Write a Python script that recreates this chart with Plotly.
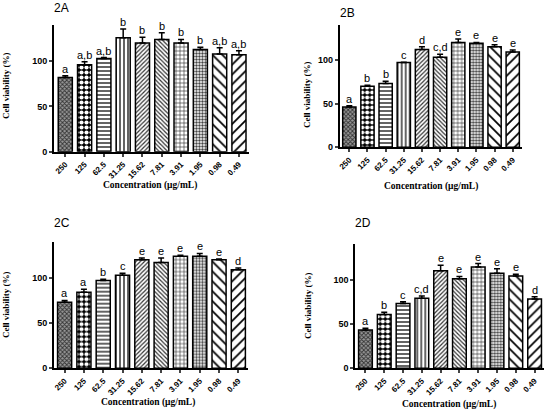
import plotly.graph_objects as go

# Concentrations (ug/mL) on the x axis
conc = ["250", "125", "62.5", "31.25", "15.62", "7.81", "3.91", "1.95", "0.98", "0.49"]

# Cell viability (%), with upper error bar sizes and letters
via_a = [82, 96, 103, 126, 120, 124, 120, 113, 108, 107]
err_a = [2, 3.5, 1, 9.5, 6.5, 7.5, 4, 2.5, 7, 4.5]
let_a = ["a", "a,b", "a,b", "b", "b", "b", "b", "b", "a,b", "a,b"]

via_b = [46, 70, 73, 97, 112, 103, 120, 119, 115, 109]
err_b = [1.5, 1, 2.5, 0.5, 3, 3.5, 4, 1, 2.5, 2.5]
let_b = ["a", "b", "b", "c", "d", "c,d", "e", "e", "e", "e"]

via_c = [73, 84, 97, 103, 120, 117, 124, 124, 120, 109]
err_c = [2, 3.5, 1.5, 2, 2, 5, 1, 3, 1, 2]
let_c = ["a", "a", "b", "c", "e", "e", "e", "e", "e", "d"]

via_d = [43, 60.5, 73, 79, 110, 101, 114, 107, 104, 78]
err_d = [2, 2.5, 2, 2.5, 6, 2.5, 4, 5, 2, 2.5]
let_d = ["a", "b", "c", "c,d", "e", "e", "e", "e", "e", "d"]

panels = [
    ("2A", via_a, err_a, let_a),
    ("2B", via_b, err_b, let_b),
    ("2C", via_c, err_c, let_c),
    ("2D", via_d, err_d, let_d),
]

W, H = 546, 410

# pixel geometry of each panel: axis line x, right end x, bottom y, top y, left pad in categories
geom = [
    (54, 248.6, 151.7, 25, 0.585),
    (339.7, 521.8, 147.3, 25, 0.53),
    (54, 248, 368.3, 241.7, 0.55),
    (355.3, 544, 368.3, 244, 0.54),
]
title_pos = [(61, 8), (347, 13), (62, 223), (363, 223)]
ylab_pos = [(6, 86), (307, 95), (6, 305), (308, 306)]
xlab_pos = [(150, 186), (431, 187), (148, 402), (449, 404)]

# fill patterns per bar
shapes = ["x", ".", "-", "|", "/", "\\", "+", ".", "\\", "/"]
sizes = [3, 5, 4, 4, 3, 3, 4, 3, 7, 7]
solid = [0.5, 0.55, 0.35, 0.35, 0.4, 0.4, 0.3, 0.5, 0.25, 0.25]
fgs = ["#333", "white", "#222", "#222", "#333", "#333", "#333", "#444", "black", "black"]
bgs = ["#999", "black", "white", "white", "white", "white", "white", "white", "white", "white"]

fig = go.Figure()
layout = dict(width=W, height=H, margin=dict(l=0, r=0, t=0, b=0),
              paper_bgcolor="white", plot_bgcolor="white", showlegend=False,
              bargap=0.27)
annotations = []

for i, (name, vals, errs, lets) in enumerate(panels):
    x0, x1, yb, yt, pad = geom[i]
    sfx = "" if i == 0 else str(i + 1)
    fig.add_trace(go.Bar(
        x=list(range(len(conc))), y=vals,
        xaxis="x" + sfx, yaxis="y" + sfx,
        marker=dict(color="white", line=dict(color="black", width=1.5),
                    pattern=dict(shape=shapes, size=sizes, solidity=solid,
                                 fgcolor=fgs, bgcolor=bgs, fillmode="replace")),
        error_y=dict(type="data", array=errs, arrayminus=[0] * len(errs), symmetric=False,
                     color="black", thickness=1.5, width=3),
    ))
    layout["xaxis" + sfx] = dict(
        domain=[x0 / W, x1 / W], anchor="y" + sfx, range=[-pad, 9.5], automargin=False,
        tickmode="array", tickvals=list(range(len(conc))), ticktext=conc,
        tickangle=-45, ticks="outside", ticklen=3, tickwidth=1.5,
        tickfont=dict(family="Liberation Sans", size=8, color="black", weight="bold"),
        showline=True, linecolor="black", linewidth=1.8, showgrid=False, zeroline=False)
    layout["yaxis" + sfx] = dict(
        domain=[1 - yb / H, 1 - yt / H], anchor="x" + sfx, range=[0, 140], automargin=False,
        tickvals=[0, 50, 100], ticks="outside", ticklen=3, tickwidth=1.5,
        tickfont=dict(family="Liberation Sans", size=9, color="black", weight="bold"),
        showline=True, linecolor="black", linewidth=1.8, showgrid=False, zeroline=False)
    for j, lt in enumerate(lets):
        annotations.append(dict(x=j, y=vals[j] + errs[j], xref="x" + sfx, yref="y" + sfx,
                                text=lt, showarrow=False, yanchor="bottom", yshift=-1,
                                font=dict(family="Liberation Sans", size=11, color="black")))
    tx, ty = title_pos[i]
    annotations.append(dict(x=tx / W, y=1 - ty / H, xref="paper", yref="paper", text=name,
                            showarrow=False, xanchor="center", yanchor="middle",
                            font=dict(family="Liberation Sans", size=12, color="black")))
    lx, ly = ylab_pos[i]
    annotations.append(dict(x=lx / W, y=1 - ly / H, xref="paper", yref="paper",
                            text="<b>Cell viability (%)</b>", textangle=-90, showarrow=False,
                            xanchor="center", yanchor="middle",
                            font=dict(family="Liberation Serif", size=9, color="black")))
    cx, cy = xlab_pos[i]
    annotations.append(dict(x=cx / W, y=1 - cy / H, xref="paper", yref="paper",
                            text="<b>Concentration (μg/mL)</b>", showarrow=False,
                            xanchor="center", yanchor="middle",
                            font=dict(family="Liberation Serif", size=9.5, color="black")))

layout["annotations"] = annotations
fig.update_layout(**layout)
# drop the browser's default body margin so the figure sits at the page corner
fig.write_html("out.html", config={"displayModeBar": False},
               post_script="document.body.style.margin='0px';")
